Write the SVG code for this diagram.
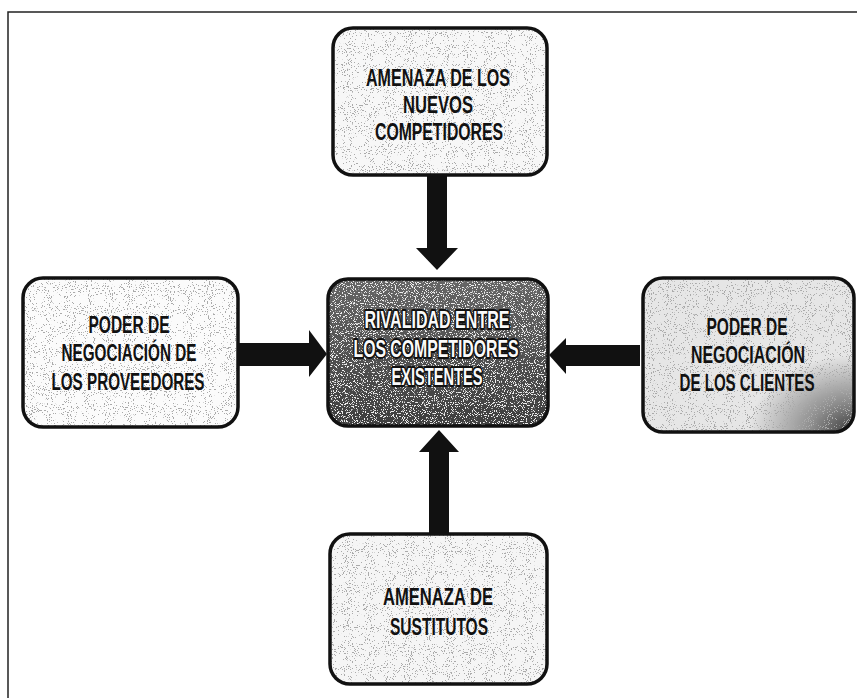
<svg xmlns="http://www.w3.org/2000/svg" width="857" height="698" viewBox="0 0 857 698">
<style>
.box{stroke:#111;stroke-width:3.5;fill:none}
.t{font-family:"Liberation Sans",Arial,sans-serif;font-weight:bold;font-size:23px;fill:#111;text-anchor:middle}
.tw{font-family:"Liberation Sans",Arial,sans-serif;font-weight:bold;font-size:23px;fill:#fafafa;stroke:#111;stroke-width:4;paint-order:stroke;stroke-linejoin:round;text-anchor:middle}
.arrow{fill:#111}
</style>
<defs>
<filter id="speck" x="0" y="0" width="100%" height="100%">
<feTurbulence type="fractalNoise" baseFrequency="0.95" numOctaves="2" seed="4" result="n"/>
<feColorMatrix in="n" type="matrix" values="0 0 0 0 0.4  0 0 0 0 0.4  0 0 0 0 0.4  -30 0 0 0 11" result="dots"/>
<feComposite in="dots" in2="SourceGraphic" operator="in" result="d"/>
<feMerge><feMergeNode in="SourceGraphic"/><feMergeNode in="d"/></feMerge>
</filter>
<filter id="speckDark" x="0" y="0" width="100%" height="100%">
<feTurbulence type="fractalNoise" baseFrequency="0.9" numOctaves="2" seed="7" result="n"/>
<feColorMatrix in="n" type="matrix" values="0 0 0 0 0.85  0 0 0 0 0.85  0 0 0 0 0.85  -18 0 0 0 7.6" result="dots"/>
<feComposite in="dots" in2="SourceGraphic" operator="in" result="d"/>
<feMerge><feMergeNode in="SourceGraphic"/><feMergeNode in="d"/></feMerge>
</filter>
<radialGradient id="rg" cx="1" cy="1" r="0.5">
<stop offset="0" stop-color="#3a3a3a"/>
<stop offset="0.4" stop-color="#8c8c8c"/>
<stop offset="1" stop-color="#e6e6e6"/>
</radialGradient>
<linearGradient id="cg" x1="0" y1="0" x2="0" y2="1">
<stop offset="0" stop-color="#666"/>
<stop offset="1" stop-color="#3e3e3e"/>
</linearGradient>
</defs>
<rect width="857" height="698" fill="#fff"/>
<path d="M8,698 V12 H857" fill="none" stroke="#222" stroke-width="1.5"/>

<g id="connectors">
<polygon class="arrow" points="427,175 447,175 447,248 458,248 437,270 416,248 427,248"/>
<polygon class="arrow" points="429,533 449,533 449,452 459,452 439,430 419,452 429,452"/>
<polygon class="arrow" points="238,343 309,343 309,330 327,354 309,377 309,366 238,366"/>
<polygon class="arrow" points="640,345 566,345 566,338 549,355 566,374 566,366 640,366"/>
</g>

<g id="top">
<rect x="333" y="28" width="214" height="147" rx="20" fill="#f7f7f7" filter="url(#speck)"/>
<rect class="box" x="333" y="28" width="214" height="147" rx="20"/>
<text class="t" x="438" y="86" textLength="144" lengthAdjust="spacingAndGlyphs">AMENAZA DE LOS</text>
<text class="t" x="438" y="113" textLength="70" lengthAdjust="spacingAndGlyphs">NUEVOS</text>
<text class="t" x="439" y="140" textLength="128" lengthAdjust="spacingAndGlyphs">COMPETIDORES</text>
</g>

<g id="left">
<rect x="23" y="278" width="215" height="149" rx="20" fill="#fbfbfb" filter="url(#speck)"/>
<rect class="box" x="23" y="278" width="215" height="149" rx="20"/>
<text class="t" x="129" y="333" textLength="81" lengthAdjust="spacingAndGlyphs">PODER DE</text>
<text class="t" x="129" y="361" textLength="135" lengthAdjust="spacingAndGlyphs">NEGOCIACIÓN DE</text>
<text class="t" x="128" y="390" textLength="153" lengthAdjust="spacingAndGlyphs">LOS PROVEEDORES</text>
</g>

<g id="center">
<rect x="328" y="279" width="220" height="147" rx="20" fill="url(#cg)" filter="url(#speckDark)"/>
<rect class="box" x="328" y="279" width="220" height="147" rx="20"/>
<text class="tw" x="437" y="328" textLength="145" lengthAdjust="spacingAndGlyphs">RIVALIDAD ENTRE</text>
<text class="tw" x="436" y="357" textLength="165" lengthAdjust="spacingAndGlyphs">LOS COMPETIDORES</text>
<text class="tw" x="437" y="385" textLength="91" lengthAdjust="spacingAndGlyphs">EXISTENTES</text>
</g>

<g id="right">
<rect x="643" y="278" width="211" height="154" rx="20" fill="url(#rg)" filter="url(#speck)"/>
<rect class="box" x="643" y="278" width="211" height="154" rx="20"/>
<text class="t" x="747" y="335" textLength="81" lengthAdjust="spacingAndGlyphs">PODER DE</text>
<text class="t" x="748" y="363" textLength="114" lengthAdjust="spacingAndGlyphs">NEGOCIACIÓN</text>
<text class="t" x="747" y="391" textLength="135" lengthAdjust="spacingAndGlyphs">DE LOS CLIENTES</text>
</g>

<g id="bottom">
<rect x="330" y="534" width="217" height="150" rx="20" fill="#f5f5f5" filter="url(#speck)"/>
<rect class="box" x="330" y="534" width="217" height="150" rx="20"/>
<text class="t" x="438" y="605" textLength="110" lengthAdjust="spacingAndGlyphs">AMENAZA DE</text>
<text class="t" x="439" y="635" textLength="98" lengthAdjust="spacingAndGlyphs">SUSTITUTOS</text>
</g>
</svg>
